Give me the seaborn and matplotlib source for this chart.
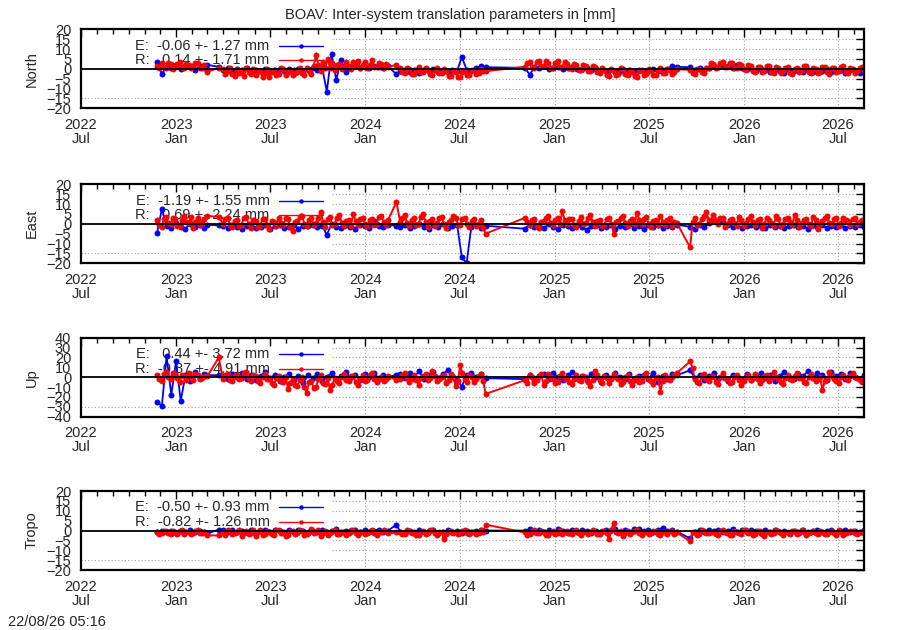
import numpy as np
import pandas as pd
import matplotlib
matplotlib.use('Agg')
import matplotlib.pyplot as plt
import matplotlib.dates as mdates
import seaborn as sns

# data coverage: segments of (roughly) regular sampling, gaps get joined by a line
seg_start = ['2022-11-25', '2023-03-02', '2023-04-01', '2024-03-01', '2024-03-08', '2024-11-04', '2025-09-19']
seg_end = ['2023-02-24', '2023-03-24', '2024-02-14', '2024-03-01', '2024-08-20', '2025-08-24', '2026-08-21']

panels = ['North', 'East', 'Up', 'Tropo']
y_lim = [20, 20, 40, 20]
y_step = [5, 5, 10, 5]

# key statistics as printed in the plot
e_mean = [-0.06, -1.19, 0.44, -0.50]
e_sd = [1.27, 1.55, 3.72, 0.93]
r_mean = [0.14, 0.69, -0.87, -0.82]
r_sd = [1.71, 2.24, 4.91, 1.26]

# North
north_E = [
    [3.5, -2.5, 1.0, 0.5, 2.0, 0.0, 1.5, 0.8, -0.5, 1.2, 0.6],
    [2.0, 1.0],
    [-0.5, 0.3, -1.0, -0.2, -0.8, 0.2, -1.2, -0.4, -0.9, 0.1, -1.3, -0.6, -0.2, -1.0, -0.3, -0.7, 0.0, -0.9,
     -0.2, 0.5, -0.4, 0.8, -11.5, 7.6, -5.6, 4.6, -1.5, 0.4, 2.0, 0.5, 1.0, 0.2, 1.5, 0.8, 0.3, 1.2],
    [-2.8],
    [-1.0, -0.5, -1.5, -0.8, -2.0, -0.6, -1.2, -0.3, -1.8, -0.9, -1.4, -0.5, -1.1, 6.0, -0.4, -1.0, 0.5, 1.2, 0.8],
    [0.5, -3.0, 0.8, 0.2, 1.2, 0.0, 0.6, 1.0, -0.2, 0.4, 0.9, 0.1, -0.3, 0.5, -0.6, 0.0, -0.8, -1.2, -0.4, -1.5,
     -0.9, -2.0, -0.7, -1.3, -0.5, -1.8, -0.9, -0.3, -1.2, -0.6, -0.1, 1.5, 1.0],
    [0.8, -0.5, 0.2, -0.8, 0.5, 1.5, 0.8, 2.0, 1.2, 0.6, 1.8, 0.4, -0.3, 0.5, -1.0, -0.2, -0.8, -1.5, -0.4, -1.0,
     -2.0, -0.6, -1.2, -0.2, -1.5, -0.8, -1.8, -0.5, -1.1, -0.3, -1.6, -0.9, -0.4, -1.9, -0.7, -1.2, -2.2, -0.6],
]
north_R = [
    [1.5, 0.2, 3.0, 1.0, 0.5, 2.8, 2.5, 0.0, 1.0, 2.2, 3.2, 0.8, 0.2, 2.5, 2.0, 0.5, 1.2, 3.0, 2.8, 0.4, 0.6, 1.8],
    [-1.5, 0.5],
    [0.0, -2.5, -1.0, 0.5, -2.5, -3.5, -0.5, -2.0, -1.0, -3.8, 0.2, -1.5, -2.8, -0.2, -3.0, -1.0, -1.2, -4.0, -2.0, 0.0,
     -4.0, -1.5, -0.8, -3.0, -2.5, 0.2, 0.0, -3.2, -1.5, -0.5, -3.2, -2.0, -1.5, 0.5, -2.0, -3.0, 0.5, -1.0,
     -2.8, 1.5, 7.0, 2.0, -1.0, 3.5, 0.5, 5.0,
     0.5, 3.0, -0.5, 2.0, 2.5, -0.2, 0.8, 3.5, 1.5, 0.0, 3.5, 1.2, 4.0, 0.5, 2.0, 3.2, 0.5, 1.8, 4.5, 1.0,
     0.8, 3.0, 2.5, 0.2, 2.5, 1.0],
    [2.0],
    [0.5, -1.5, -2.0, 0.2, 0.0, -2.8, -2.5, -0.5, 1.0, -1.8, -1.5, 0.5, -0.5, -2.5, -3.0, -0.8, 0.2, -2.0, -2.2, 0.0,
     -1.0, -3.5, -3.5, -1.2, -1.5, -4.0, -4.0, -1.5, -1.0, -3.0, -3.2, -0.5, -0.5, -2.5, -2.0, 0.0, -1.0, -1.2],
    [1.0, 3.0, 3.5, 0.8, 0.5, 3.2, 4.0, 1.2, 1.5, 3.8, 3.0, 0.5, 0.2, 2.8, 3.8, 1.0, 1.0, 3.5, 2.5, 0.2,
     0.0, 2.5, 2.0, -0.5, -0.5, 2.0, 1.5, -1.0, -1.0, 1.5, 0.8, -1.8, -2.0, 0.5, -0.5, -3.0, -3.5, -0.2, -1.0, -3.2,
     -2.8, 0.2, 0.0, -2.5, -3.2, -0.5, -1.5, -3.8, -4.0, -1.0, -0.8, -3.0, -2.5, 0.0, -1.2, -3.2, -3.0, -0.5, 0.2, -2.2,
     -2.0, 0.0, -0.5, -2.5, -1.5, -0.2],
    [-0.5, -2.2, -2.5, 0.0, 0.0, -1.8, -2.0, 0.5, 0.5, 2.8, 2.5, 0.2, 0.8, 3.0, 3.2, 1.0, 1.0, 3.0, 2.8, 0.5,
     0.5, 2.5, 2.0, -0.2, -0.5, 1.8, 1.5, -1.2, -1.5, 1.0, 0.8, -1.8, -1.0, 1.5, 1.2, -1.5, -2.0, 0.8, 0.5, -2.2,
     -1.2, 0.5, 1.0, -2.0, -2.5, 0.0, 0.2, -1.8, -1.0, 1.2, 1.5, -1.5, -2.2, 0.5, 0.0, -2.0, -1.5, 0.8, 1.0, -1.8,
     -2.8, 0.2, 0.5, -1.5, -1.0, 1.0, 1.2, -1.8, -2.0, 0.5, 0.0, -2.2, -1.2, 0.5, 0.8, -0.8],
]

# East
east_E = [
    [-4.5, 7.5, -1.0, -2.0, 0.5, -1.5, -2.5, 0.0, -1.8, -0.5, -2.2],
    [-0.5, -0.8],
    [-1.0, -2.0, -0.5, -1.8, -2.5, -1.0, -0.2, -2.2, -1.5, -0.8, -2.8, -1.2, -0.5, -2.0, -1.5, -0.8, -2.4, -1.0,
     -1.0, -0.5, -1.8, -1.0, -5.5, -0.2, -1.5, -2.0, -0.8, -1.6, -2.6, -0.5, -1.2, -2.2, 1.2, -1.0, -1.8, -0.6],
    [-1.0],
    [-1.5, -0.5, -2.2, -1.0, -0.2, -1.8, -2.5, -0.8, -1.5, -0.3, -2.0, -1.2, -0.6, -17.0, -20.0, -1.5, -0.8, -2.0, -1.0],
    [-2.5, -0.5, -1.8, -1.0, -2.2, -0.2, -1.5, -2.8, -0.8, -1.2, -2.0, -0.5, -1.6, -3.0, -1.0, -0.4, -2.2, -1.4,
     -0.6, -2.5, -1.0, -1.8, -0.3, -2.0, -1.2, -2.6, -0.8, -1.5, -0.4, -2.2, -1.0, -1.6, -0.5],
    [-1.5, -2.5, -0.8, -1.8, 0.5, 1.5, 0.2, 1.0, -0.5, -1.5, -0.8, -2.0, -1.2, -0.5, -1.8, -1.0, -2.2, -0.6, -1.5,
     -0.9, -2.0, -1.2, -0.4, -1.8, -1.0, -2.4, -0.8, -1.5, -0.6, -2.0, -1.1, -1.7, -0.5, -2.2, -1.0, -1.4, -0.7, -1.6],
]
east_R = [
    [2.0, -0.5, -1.5, 2.5, 3.5, 0.5, 0.0, 3.0, 2.5, -1.0, -1.0, 2.0, 4.0, 1.0, 0.5, 3.5, -2.0, 1.0, 3.0, -0.5, 1.0, 2.5],
    [4.0, 3.5],
    [0.0, 2.5, 3.0, -0.5, -1.5, 1.5, 2.0, -1.0, -0.5, 3.0, 3.5, 0.0, -2.0, 2.0, 1.5, -1.5, -1.0, 2.5, 2.5, -0.5,
     -2.5, 1.5, 1.0, -1.0, 3.0, 0.5, -0.8, 2.8, 2.2, -1.5, -3.5, 1.0, 1.5, 3.5, 4.0, 0.0, -1.0, 2.0, 2.8, -0.5,
     0.5, 3.0, 6.0, 1.0, -1.5, 2.5, 3.5, -0.5, 0.0, 3.0, 4.5, 0.5, -1.2, 1.5, 2.0, -1.0, 5.0, 1.5, -0.5, 2.5,
     3.0, 0.0, -1.0, 2.0, 2.5, -0.5, 0.0, 3.5, 4.0, 1.0, -0.5, 2.0],
    [11.0],
    [1.0, 3.0, 4.5, 0.5, -1.0, 2.0, 3.0, -0.5, 0.0, 3.5, 5.0, 1.0, -1.5, 1.5, 2.5, -1.0, 0.5, 3.0, 3.5, 0.0,
     -2.0, 1.0, 2.0, 4.0, 3.0, -0.5, -0.5, 2.5, 3.0, 0.0, -1.5, 1.5, 2.5, -1.0, 0.0, 2.0, -2.0, -5.0],
    [3.0, 1.0, -0.5, 2.0, 2.5, -1.0, -2.0, 1.0, 1.5, 3.0, 4.0, 0.5, -0.5, 2.0, 3.0, 0.0, 6.5, 2.0, 0.0, 2.5,
     2.5, -0.5, -1.5, 1.5, 3.5, 0.0, 0.5, 3.0, 4.5, 1.0, -1.0, 1.5, 2.0, -1.0, -0.5, 2.5, 3.0, 0.0, -5.0, 1.0,
     1.5, 3.0, 4.0, 0.5, -1.0, 1.5, 2.5, 0.0, 5.5, 2.0, 0.0, 2.5, 3.5, 0.0, -1.5, 1.5, 2.0, -0.5, 4.0, 1.0,
     -0.5, 2.0, 3.0, -1.0, 1.0, 0.5],
    [-12.0, 1.0, 3.0, -0.5, 0.0, 2.5, 4.0, 6.0, 2.0, 1.0, 4.5, 2.0, 0.0, 3.0, 3.0, -1.5, 0.0, 2.0, 2.5, 0.5,
     -1.0, 3.5, 2.0, -1.0, 0.5, 2.5, 4.0, 1.0, -0.5, 2.0, 2.5, -2.0, 0.0, 3.0, 2.0, 0.5, -1.0, 4.0, 2.5, -1.0,
     0.0, 2.5, 3.0, 1.0, -0.5, 4.5, 2.0, -1.5, 0.5, 2.0, 2.5, 0.0, -1.0, 3.5, 2.0, -2.5, 0.0, 1.5, 3.0, 4.0,
     0.5, 0.0, 2.5, 3.0, -1.0, 0.5, 3.0, 2.0, 1.5, -0.5, 2.5, 3.0, 0.0, 1.0, 2.0, 1.5],
]

# Up
up_E = [
    [-25.0, -29.0, 21.0, -18.0, 16.0, -24.0, 2.0, -4.0, 5.0, -1.0, 3.0],
    [2.0, 2.0],
    [1.0, -2.0, 3.0, 0.0, 4.0, -1.5, 2.0, -3.0, 1.5, 5.0, -1.0, 2.5, -4.0, 0.5, 3.5, -2.5, 1.0, -6.0, 2.0, -1.0,
     3.0, -3.5, 0.5, 4.0, -2.0, 1.5, 5.5, -1.0, 2.0, -3.0, 3.5, 0.0, 4.5, -1.5, 2.5, 0.5],
    [2.0],
    [3.0, -1.0, 4.0, 0.5, 6.0, -2.0, 2.5, 5.0, -0.5, 3.0, 7.0, 1.0, -3.0, -9.5, 2.0, 4.5, 0.0, 3.0, -1.0],
    [-2.0, 2.5, -4.0, 1.0, 3.5, -1.5, 4.0, 0.0, -3.0, 2.0, 5.0, -1.0, 1.5, -2.5, 3.0, 0.5, -4.5, 2.0, -1.0, 4.0,
     0.0, -2.0, 3.5, -3.0, 1.0, 2.5, -1.5, 4.0, -5.0, 1.0, -2.0, 3.0, 2.0],
    [7.0, -1.0, 2.0, -3.0, 1.0, 4.0, -2.0, 0.5, -4.0, 2.5, 1.0, -1.5, 3.0, -2.5, 0.0, 4.5, -1.0, 2.0, -3.5, 1.5,
     5.0, 0.0, -2.0, 3.5, 1.0, 6.0, -1.0, 4.0, 2.0, -2.5, 5.5, 1.0, 3.0, -1.5, 4.0, 0.5, -2.0, 2.5],
]
up_R = [
    [2.0, -2.0, -4.0, 3.0, 5.0, 0.0, -2.0, 4.0, 3.0, -1.0, -5.0, 2.0, 1.0, -3.0, 4.0, 0.5, -3.0, 3.5, 2.5, -2.0, -1.0, 1.5],
    [1.0, 20.0],
    [-2.0, 2.0, 3.0, -3.0, -4.0, 1.0, 2.0, -2.0, -1.0, 4.0, 5.0, -1.0, -3.5, 2.0, 1.0, -4.0, -6.0, 0.0, 3.5, -2.0,
     -2.0, -6.0, -8.0, -1.0, 1.0, -4.0, -5.0, 0.0, -12.0, -6.0, -2.0, -8.0, -9.0, -3.0, 0.0, -10.0, -16.0, -5.0, -4.0, -11.0,
     -10.0, -2.0, 2.0, -6.0, -7.0, -1.0, -13.0, -8.0, -1.0, -4.0, -6.0, 0.0, 3.0, -3.0, -4.0, 1.0, 1.0, -5.0, -8.0, -2.0,
     2.0, -4.0, -3.0, 2.0, 4.0, -2.0, -5.0, -1.0, 0.0, -4.0, -2.0, 1.0],
    [-3.0],
    [-2.0, 2.0, 4.0, -1.0, -5.0, -2.0, 2.0, -3.0, -8.0, -1.0, 1.0, 3.0, -3.0, -1.0, 6.0, 1.0, -4.0, -2.0, 0.0, 2.0,
     -6.0, -3.0, 3.0, 0.0, -9.0, -4.0, 12.0, 4.0, -2.0, -5.0, 2.0, 0.0, -5.0, -2.0, 1.0, 3.0, -4.0, -17.0],
    [-3.0, -6.0, 2.0, 0.0, -6.0, -3.0, 1.0, 3.0, -8.0, -4.0, 3.0, 0.0, -2.0, -6.0, -5.0, 1.0, 4.0, -2.0, -1.0, -5.0,
     -7.0, -2.0, 2.0, -3.0, -4.0, 1.0, 0.0, -5.0, -9.0, -3.0, 6.0, 2.0, -3.0, -6.0, 1.0, -1.0, -6.0, -2.0, 3.0, 0.0,
     -2.0, -7.0, -5.0, 0.0, 2.0, -4.0, -8.0, -3.0, 0.0, -5.0, -4.0, 1.0, 4.0, -2.0, -4.0, -7.0, -1.0, 0.0, -15.0, -4.0,
     2.0, -1.0, -3.0, 0.0, 2.0, 4.0],
    [16.0, 9.0, -2.0, -5.0, -6.0, 1.0, 3.0, -2.0, -4.0, 0.0, 1.0, -5.0, -7.0, 0.0, 4.0, -1.0, -2.0, -6.0, -5.0, 0.0,
     2.0, -3.0, -8.0, -4.0, 0.0, 2.0, -3.0, -1.0, 3.0, -2.0, -6.0, -3.0, 1.0, 2.0, -4.0, -1.0, 5.0, 0.0, -2.0, -5.0,
     -7.0, -1.0, 2.0, -2.0, -3.0, 1.0, 4.0, -1.0, -1.0, -5.0, -6.0, 0.0, 3.0, -1.0, -4.0, -2.0, 0.0, -13.0, -4.0, -2.0,
     5.0, 1.0, -2.0, -4.0, -6.0, 0.0, 2.0, -1.0, -3.0, 1.0, 4.0, 0.0, -1.0, -3.0, -5.0, -1.0],
]

# Tropo
tropo_E = [
    [-1.0, -0.2, -0.8, 0.0, -1.2, -0.4, -0.6, 0.2, -0.9, -0.3, -0.7],
    [-1.5, 0.5],
    [0.2, -0.5, 0.5, -1.0, 0.0, -0.6, 0.4, -1.2, -0.2, 0.3, -0.8, 0.1, -0.4, -1.0, 0.2, -0.6, 0.5, -0.3, -1.1,
     0.0, -0.5, 0.3, -0.9, -0.2, 0.6, -0.7, -0.1, -1.0, 0.4, -0.5, 0.1, -0.8, -0.3, 0.5, -0.6, 0.0],
    [3.0],
    [-0.5, -1.2, 0.0, -0.8, 0.3, -1.0, -0.4, 0.2, -1.3, -0.6, 0.1, -0.9, -0.2, -1.1, 0.0, -0.7, -0.3, 0.2, 0.0],
    [0.0, 0.8, -0.5, 0.5, -1.0, 0.3, -0.6, 0.6, -0.2, -1.1, 0.2, -0.7, 0.4, -0.3, -1.5, 0.0, -0.8, 0.5, -0.4, 0.8,
     -0.6, 0.2, -1.0, 0.6, 1.0, -0.3, 0.4, -0.8, 0.5, 1.2, -0.2, 0.3, -0.5],
    [-4.0, -0.5, 0.3, -0.8, 0.2, -0.4, 0.5, -1.0, 0.0, 0.8, -0.6, 0.2, -0.9, 0.4, -0.3, -1.2, 0.1, -0.6, 0.3, -0.8,
     -0.2, -1.5, 0.0, -0.7, 0.4, -1.0, -0.3, 0.2, -0.9, -0.4, 0.3, -1.1, -0.2, 0.5, -0.8, -0.1, -0.6, 0.2],
]
tropo_R = [
    [-0.5, -1.8, -1.5, 0.0, 0.0, -1.5, -2.0, -0.2, -0.8, -1.8, -0.2, 0.2, -1.8, -1.0, -0.5, -2.0, -1.2, 0.0, 0.2, -1.5,
     -1.5, -0.5],
    [-2.5, -2.5],
    [-1.0, -2.2, 0.5, -0.2, -2.0, -1.5, -0.5, 0.3, -2.8, -1.2, 0.0, -2.0, -1.5, 0.5, -3.0, -1.0, 0.2, -2.5, -1.8, 0.0,
     -0.5, -2.0, -2.2, 0.2, 0.5, -1.5, -1.2, -2.8, -2.5, 0.0, 0.0, -1.8, -1.5, 0.5, -0.2, -2.5, -2.0, -0.5, 0.8, -1.5,
     -1.0, 0.2, -2.6, -1.5, -0.4, -2.2, -1.5, 0.0, 0.3, -1.8, -2.0, -0.5, -0.8, -2.2, -1.2, 0.2, 0.5, -1.5, -2.2, -0.8,
     -0.5, -2.0, -1.5, 0.0, 0.2, -1.5, -2.5, -0.8, -1.0, 0.2, -0.3, -1.5],
    [-1.0],
    [-0.5, -1.8, -2.0, 0.2, 0.0, -1.5, -1.2, -2.2, -2.5, -0.5, -0.3, -1.8, -1.5, 0.2, 0.5, -1.2, -2.2, -0.5, -1.0, -4.5,
     -1.8, -0.5, -0.2, -1.5, -0.8, -2.0, -1.5, 0.0, 0.2, -1.2, -2.0, -0.5, -0.5, -1.8, -1.2, 0.2, -0.8, 3.0],
    [-1.0, -2.2, -2.0, 0.0, 0.2, -1.5, -1.5, 0.0, -0.5, -2.2, -2.5, -0.5, 0.0, -1.8, -1.2, 0.2, -2.0, -0.8, -0.3, -1.5,
     -1.6, 0.0, 0.4, -1.5, -2.2, -0.5, -0.8, -2.0, -1.0, 0.2, -0.5, -1.8, -2.0, 0.0, 0.0, -1.5, -4.5, 0.5, 4.0, -1.0,
     -1.5, -0.2, -2.8, -1.2, -0.2, -2.0, -1.0, 0.0, 0.5, -1.5, -2.2, -0.5, -0.6, -2.0, -1.5, 0.0, 0.0, -1.8, -2.5, -0.5,
     -1.0, -2.0, -0.4, 0.0, -1.8, -1.0],
    [-5.5, -0.5, -1.0, -2.2, -2.0, 0.2, 0.0, -1.5, -1.5, -0.5, -0.5, -2.0, -2.2, 0.0, 0.2, -1.0, -1.2, -2.2, -2.5, -0.2,
     -0.6, -1.5, -1.8, 0.2, 0.4, -1.5, -1.0, -2.2, -2.0, 0.0, -0.2, -1.8, -2.8, -0.5, -0.8, -2.0, -1.5, 0.2, 0.0, -1.5,
     -2.2, -0.5, -1.0, -2.0, -0.4, 0.0, -1.6, -1.2, 0.3, -0.5, -2.5, -1.5, -0.8, 0.0, -1.2, -2.0, 0.0, -0.5, -2.0, -1.8,
     -0.5, 0.0, -1.5, -2.2, 0.2, -0.5, -2.2, -1.5, -1.0, 0.0, -0.3, -1.5, -1.8, -0.5, -0.6, -1.2],
]

series_E = [north_E, east_E, up_E, tropo_E]
series_R = [north_R, east_R, up_R, tropo_R]


def to_frame(segments, name):
    parts = []
    for vals, s, e in zip(segments, seg_start, seg_end):
        t = np.linspace(pd.Timestamp(s).value, pd.Timestamp(e).value, len(vals))
        parts.append(pd.DataFrame({'date': pd.to_datetime(t.astype('int64')), 'val': vals}))
    df = pd.concat(parts, ignore_index=True)
    df['sys'] = name
    return df


sns.set_style('white')
plt.rcParams['font.family'] = ['Liberation Sans', 'DejaVu Sans']
plt.rcParams['font.size'] = 10.5

fig = plt.figure(figsize=(9, 6.3), dpi=100)

x0 = pd.Timestamp('2022-07-01')
x1 = pd.Timestamp('2026-08-20 12:00')
major = pd.date_range('2022-07-01', '2026-07-01', freq='6MS')
grid_col = '#a0a0a0'
bottoms = [0.8281, 0.5821, 0.3386, 0.0952]
style = {'E': dict(color='#0000ff', ms=4.3, lw=1.3), 'R': dict(color='#ff0000', ms=4.3, lw=1.4)}

for i, name in enumerate(panels):
    ax = fig.add_axes([0.09, bottoms[i], 0.87, 0.1254])
    lim = y_lim[i]

    # grid, kept clear of the key area like gnuplot does
    for y in np.arange(-lim + y_step[i], lim, y_step[i]):
        if y == 0:
            continue
        frac = (y + lim) / (2 * lim)
        ax.axhline(y, xmin=0.32 if frac > 0.19 else 0, color=grid_col, lw=0.8, ls=(0, (1, 2)), zorder=0.5)
    for d in major:
        if d >= pd.Timestamp('2024-01-01'):
            ax.axvline(d, color=grid_col, lw=0.8, ls=(0, (1, 2)), zorder=0.5)

    # key (drawn under the data)
    lab_E = f'E: {e_mean[i]:6.2f} +- {e_sd[i]:.2f} mm'
    lab_R = f'R: {r_mean[i]:6.2f} +- {r_sd[i]:.2f} mm'
    for row, (lab, col) in enumerate([(lab_E, '#0000ff'), (lab_R, '#ff0000')]):
        yy = 0.792 - row * 0.183
        ax.text(0.241, yy, lab, transform=ax.transAxes, ha='right', va='center', zorder=1)
        ax.plot([0.253, 0.309], [yy, yy], color=col, lw=1, transform=ax.transAxes, zorder=1)
        ax.plot([0.281], [yy], 'o', color=col, ms=3.2, mew=0, transform=ax.transAxes, zorder=1)

    for key, segs in (('E', series_E[i]), ('R', series_R[i])):
        st = style[key]
        sns.lineplot(data=to_frame(segs, key), x='date', y='val', color=st['color'], sort=False,
                     estimator=None, marker='o', markersize=st['ms'], markeredgewidth=0,
                     linewidth=st['lw'], legend=False, ax=ax)
    ax.axhline(0, color='black', lw=1.3, zorder=5)

    ax.set_xlim(x0, x1)
    ax.set_ylim(-lim, lim)
    ax.set_yticks(np.arange(-lim, lim + 1, y_step[i]))
    ax.set_xticks(major)
    ax.set_xticklabels([d.strftime('%Y\n%b') for d in major], linespacing=1.0)
    ax.xaxis.set_minor_locator(mdates.MonthLocator())
    ax.tick_params(which='both', direction='in', top=True, right=True, color='black')
    ax.tick_params(which='major', length=6, width=1, pad=7)
    ax.tick_params(which='minor', length=3.5, width=1)
    for sp in ax.spines.values():
        sp.set_linewidth(1.6)
        sp.set_color('black')
    ax.set_xlabel('')
    ax.set_ylabel('')
    ax.text(-0.0626, 0.5, name, transform=ax.transAxes, rotation=90, ha='center', va='center')

fig.text(0.5, 1 - 14.5 / 630, 'BOAV: Inter-system translation parameters in [mm]', ha='center', va='center')
fig.text(8 / 900, 1 - 622 / 630, '22/08/26 05:16', ha='left', va='center')

fig.savefig('out.png', dpi=100)
